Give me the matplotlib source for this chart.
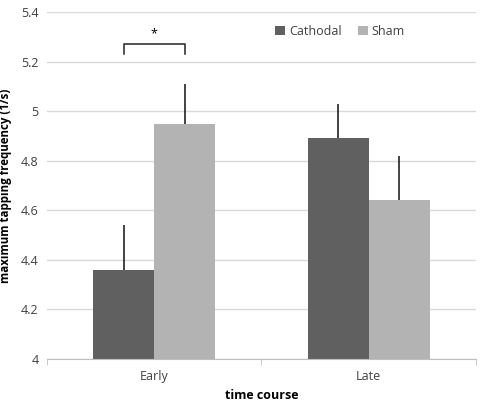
import matplotlib
matplotlib.use("Agg")
import matplotlib.pyplot as plt
import numpy as np

plt.rcParams['font.family'] = ['Open Sans', 'DejaVu Sans']

categories = ["Early", "Late"]
series_names = ["Cathodal", "Sham"]
cathodal = [4.36, 4.89]
sham = [4.95, 4.64]
cathodal_err = [0.18, 0.14]
sham_err = [0.16, 0.18]
yticks = [4, 4.2, 4.4, 4.6, 4.8, 5, 5.2, 5.4]
yticklabels = ["4", "4.2", "4.4", "4.6", "4.8", "5", "5.2", "5.4"]
colors = ["#606060", "#b3b3b3"]

fig = plt.figure(figsize=(4.94, 4.05), dpi=100)
ax = fig.add_axes([0.0951, 0.1136, 0.8685, 0.8568])

x = np.arange(len(categories))
w = 0.285
ax.bar(x - w/2, cathodal, w, color=colors[0], label=series_names[0], zorder=2)
ax.bar(x + w/2, sham, w, color=colors[1], label=series_names[1], zorder=2)
ax.errorbar(x - w/2, cathodal, yerr=[np.zeros(2), cathodal_err], fmt='none',
            ecolor='#222222', elinewidth=1.2, capsize=0, zorder=3)
ax.errorbar(x + w/2, sham, yerr=[np.zeros(2), sham_err], fmt='none',
            ecolor='#222222', elinewidth=1.2, capsize=0, zorder=3)

ax.set_ylim(4, 5.4)
ax.set_xlim(-0.5, 1.5)
ax.set_yticks(yticks)
ax.set_yticklabels(yticklabels, fontsize=9, color='#404040')
ax.yaxis.grid(True, color='#d9d9d9', linewidth=1)
ax.set_axisbelow(True)
for s in ['left', 'right', 'top']:
    ax.spines[s].set_visible(False)
ax.spines['bottom'].set_color('#bfbfbf')
ax.tick_params(axis='y', length=0, pad=6)

ax.set_xticks(x)
ax.set_xticklabels(categories, fontsize=9, color='#404040')
ax.tick_params(axis='x', length=0, pad=8)
ax.set_xticks([-0.5, 0.5, 1.5], minor=True)
ax.tick_params(axis='x', which='minor', length=4, color='#bfbfbf')

ax.set_xlabel("time course", fontsize=9, fontweight='bold', labelpad=4)
ax.set_ylabel("maximum tapping frequency (1/s)", fontsize=8.3, fontweight='bold')
ax.yaxis.set_label_coords(-0.081, 0.5)

# significance bracket
bx0, bx1 = x[0] - w/2, x[0] + w/2
ax.plot([bx0, bx0, bx1, bx1], [5.23, 5.27, 5.27, 5.23], color='#222222', lw=1.1, zorder=3)
ax.text(x[0], 5.285, "*", ha='center', va='bottom', fontsize=9)

ax.legend(loc='upper right', bbox_to_anchor=(0.86, 0.995), ncol=2, frameon=False,
          fontsize=9, handlelength=0.8, handleheight=0.8, handletextpad=0.3,
          columnspacing=1.3, labelcolor='#404040')

fig.savefig("out.png", dpi=100)
